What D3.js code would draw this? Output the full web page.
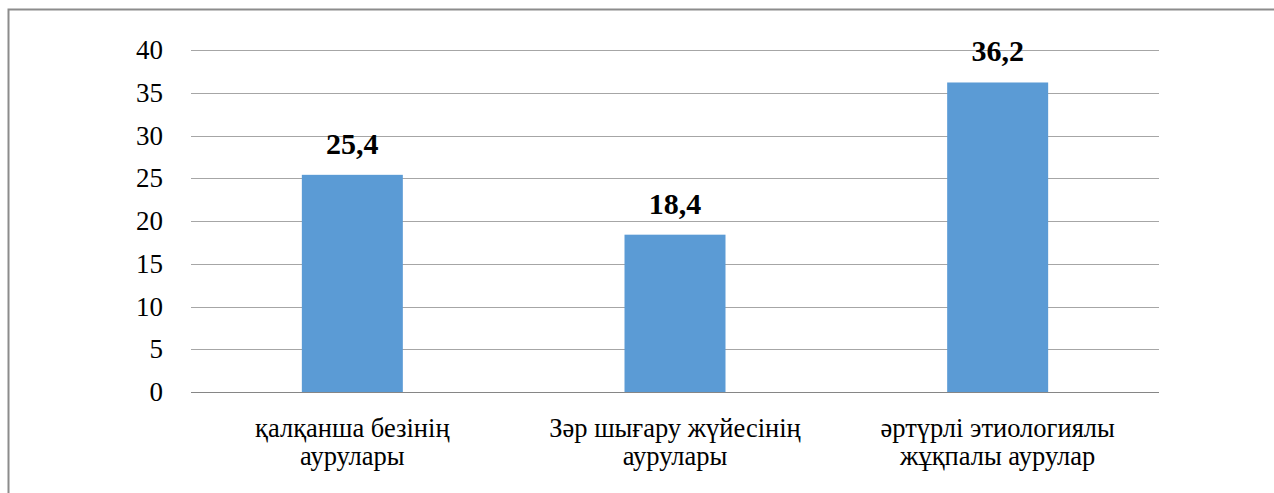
<!DOCTYPE html>
<html>
<head>
<meta charset="utf-8">
<script src="https://cdn.jsdelivr.net/npm/d3@7"></script>
<style>
  body { margin: 0; background: #fff; }
  svg { display: block; }
</style>
</head>
<body>
<svg id="chart" width="1274" height="493"></svg>
<script>
// chart data
var categories = [
  ['қалқанша безінің', 'аурулары'],
  ['Зәр шығару жүйесінің', 'аурулары'],
  ['әртүрлі этиологиялы', 'жұқпалы аурулар']
];
var values = [25.4, 18.4, 36.2];
var valueLabels = ['25,4', '18,4', '36,2'];
var yTicks = [0, 5, 10, 15, 20, 25, 30, 35, 40];

var serif = '"Liberation Serif"';

var svg = d3.select('#chart');

// outer frame
svg.append('rect')
  .attr('x', 8.5).attr('y', 9.5)
  .attr('width', 1300).attr('height', 520)
  .attr('fill', 'none')
  .attr('stroke', '#8c8c8c')
  .attr('stroke-width', 2);

var plotLeft = 191, plotRight = 1159, plotTop = 50, plotBottom = 392;

var x = d3.scaleBand()
  .domain(d3.range(categories.length))
  .range([plotLeft, plotRight])
  .paddingInner(0.687)
  .paddingOuter(0.3435);

var y = d3.scaleLinear().domain([0, 40]).range([plotBottom, plotTop]);

// gridlines
svg.append('g').selectAll('line')
  .data(yTicks)
  .enter().append('line')
  .attr('x1', plotLeft).attr('x2', plotRight)
  .attr('y1', function (d) { return Math.round(y(d)) + 0.5; })
  .attr('y2', function (d) { return Math.round(y(d)) + 0.5; })
  .attr('stroke', function (d) { return d === 0 ? '#868686' : '#a6a6a6'; })
  .attr('stroke-width', 1);

// y tick labels
svg.append('g').selectAll('text')
  .data(yTicks)
  .enter().append('text')
  .attr('x', 163)
  .attr('y', function (d) { return y(d); })
  .attr('dy', '0.34em')
  .attr('text-anchor', 'end')
  .style('font-family', serif)
  .style('font-size', '27px')
  .text(function (d) { return d; });

// bars
svg.append('g').selectAll('rect')
  .data(values)
  .enter().append('rect')
  .attr('x', function (d, i) { return x(i); })
  .attr('width', x.bandwidth())
  .attr('y', function (d) { return y(d); })
  .attr('height', function (d) { return plotBottom - y(d); })
  .attr('fill', '#5b9bd5');

// value labels
svg.append('g').selectAll('text')
  .data(values)
  .enter().append('text')
  .attr('x', function (d, i) { return x(i) + x.bandwidth() / 2; })
  .attr('y', function (d) { return y(d) - 21; })
  .attr('text-anchor', 'middle')
  .style('font-family', serif)
  .style('font-size', '30px')
  .style('font-weight', 'bold')
  .text(function (d, i) { return valueLabels[i]; });

// category labels
var cat = svg.append('g').selectAll('text')
  .data(categories)
  .enter().append('text')
  .attr('x', function (d, i) { return x(i) + x.bandwidth() / 2; })
  .attr('y', 437)
  .attr('text-anchor', 'middle')
  .style('font-family', serif)
  .style('font-size', '26.5px');

cat.selectAll('tspan')
  .data(function (d) { return d; })
  .enter().append('tspan')
  .attr('x', function () { return d3.select(this.parentNode).attr('x'); })
  .attr('dy', function (d, j) { return j === 0 ? 0 : 28; })
  .text(function (d) { return d; });
</script>
</body>
</html>
